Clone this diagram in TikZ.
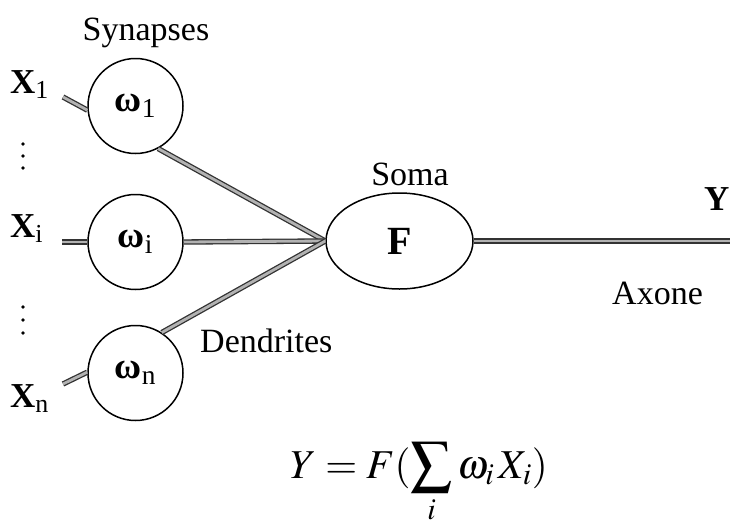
\documentclass[tikz,border=0pt]{standalone}
\usepackage{mathptmx}
\usepackage{fontspec}
\setmainfont{Liberation Serif}
\usetikzlibrary{shapes.geometric,positioning}
\tikzset{
    synapse/.style={circle, draw, line width=1.5pt, minimum size=95pt, inner sep=0pt,
      font=\fontsize{37}{40}\selectfont\bfseries},
    soma/.style={ellipse, draw, line width=1.5pt, minimum width=147pt, minimum height=96pt,
      inner sep=0pt, font=\fontsize{40}{44}\selectfont\bfseries},
    dendrite/.style={draw=black!80, line width=1.3pt, double=gray!60, double distance=2.8pt},
    lbl/.style={inner sep=0pt, font=\fontsize{34}{40}\selectfont},
    inp/.style={inner sep=0pt, anchor=base west, font=\fontsize{35}{40}\selectfont\bfseries}
}

\begin{document}
\begin{tikzpicture}[x=1pt,y=-1pt]
    \useasboundingbox (0,0) rectangle (730,525);
    % synapses
    \foreach \n/\y in {1/106,i/242,n/373}{
        \node[synapse] (w\n) at (135.5,\y) {ω\textsubscript{\mdseries\n}};
    }
    \node[soma] (soma) at (399.5,241) {F};

    % inputs
    \node[inp] (x1) at (10,93) {X\textsubscript{\mdseries 1}};
    \node[inp] (xi) at (10,237) {X\textsubscript{\mdseries i}};
    \node[inp] (xn) at (10,407) {X\textsubscript{\mdseries n}};
    \coordinate (s1) at (63,97);
    \coordinate (si) at (62,242);
    \coordinate (sn) at (63,384);
    \coordinate (yend) at (730,241);

    \foreach \y in {144,156,168,307,320,333}{
        \fill (23,\y) circle (1.8pt);
    }

    % dendrites and axone
    \draw[dendrite] (s1) -- (w1.185);
    \draw[dendrite] (si) -- (wi.west);
    \draw[dendrite] (sn) -- (wn.179);
    \draw[dendrite] (w1.-62) -- (soma.west);
    \draw[dendrite] (wi.east) -- (soma.west);
    \draw[dendrite] (wn.57) -- (soma.west);
    \draw[dendrite] (soma.east) -- (yend);

    % labels
    \node[lbl, anchor=base] (syn) at (146,40) {Synapses};
    \node[lbl, anchor=base] (somalbl) at (410,185) {Soma};
    \node[lbl, anchor=base west] (den) at (200,352) {Dendrites};
    \node[lbl, anchor=base west] (axo) at (612,304) {Axone};
    \node[inp] (y) at (704,210) {Y};
    \node[lbl, anchor=base west, font=\fontsize{41}{48}\selectfont] (eq) at (290,478)
        {$\displaystyle Y=F(\sum_i \omega_i\, X_i)$};
\end{tikzpicture}
\end{document}
